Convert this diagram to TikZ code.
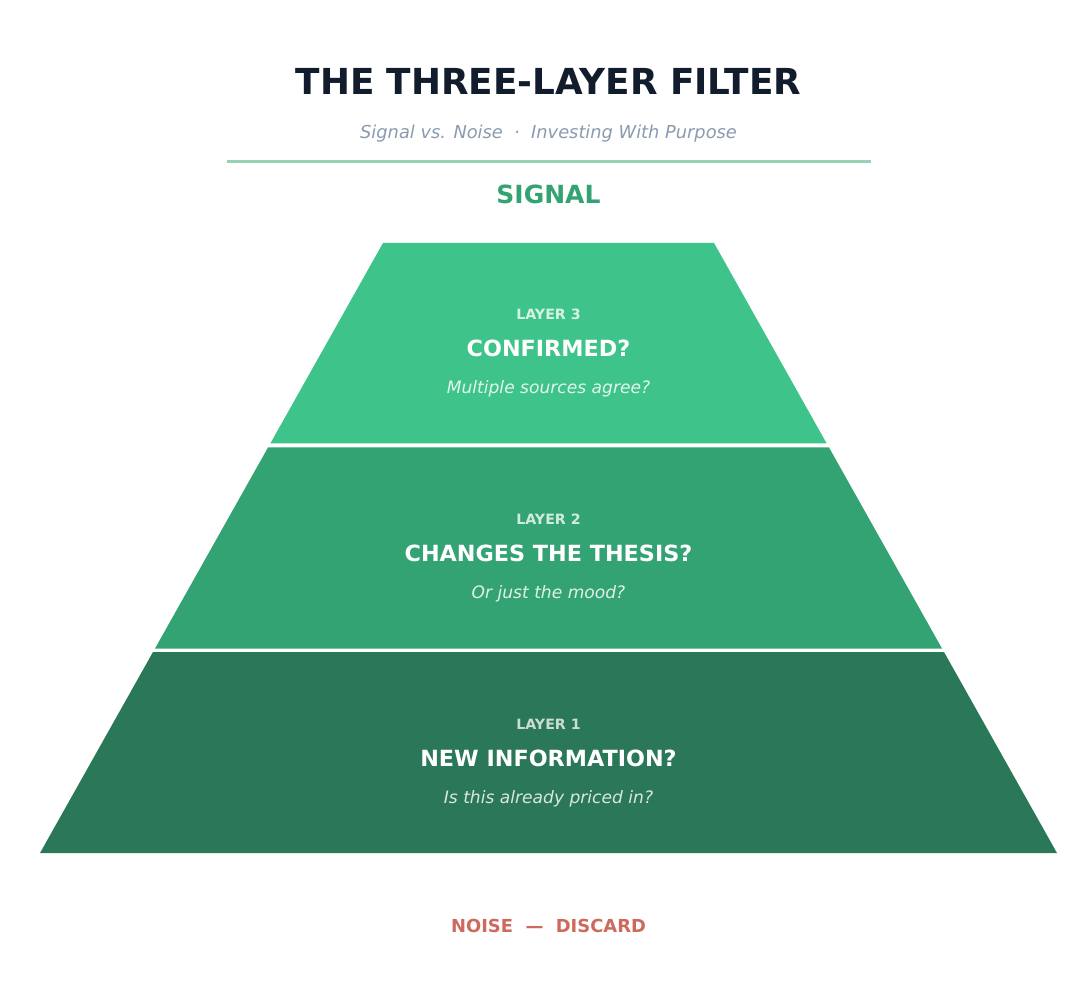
\documentclass[tikz,border=0pt]{standalone}
\usepackage{fontspec}
\setmainfont{DejaVu Sans}
\definecolor{titlec}{HTML}{111C2D}
\definecolor{subc}{HTML}{8A9BB0}
\definecolor{rulec}{HTML}{96D2B4}
\definecolor{sigc}{HTML}{34A373}
\definecolor{noisec}{HTML}{CD6A5D}
\definecolor{lthree}{HTML}{3EC48A}
\definecolor{ltwo}{HTML}{34A374}
\definecolor{lone}{HTML}{2B7859}
\begin{document}
\begin{tikzpicture}[x=1pt,y=-1pt,
  txt/.style={inner sep=0pt,anchor=center},
  tag/.style={txt,font=\fontsize{14.2}{14}\selectfont\bfseries},
  head/.style={txt,font=\fontsize{22.3}{22}\selectfont\bfseries,text=white},
  note/.style={txt,font=\fontsize{17.1}{17}\selectfont\itshape}]
\useasboundingbox (0,0) rectangle (1090,981);
\fill[white] (0,0) rectangle (1090,981);
% layers
\fill[lthree] (383,243) -- (714,243) -- (826.7,443.5) -- (270.3,443.5) -- cycle;
\fill[ltwo] (268,447.5) -- (829,447.5) -- (942,648.5) -- (155,648.5) -- cycle;
\fill[lone] (153,652) -- (944,652) -- (1057,853) -- (40,853) -- cycle;
% header
\node[txt,font=\fontsize{35.8}{36}\selectfont\bfseries,text=titlec] (title) at (548.5,81) {THE THREE-LAYER FILTER};
\node[txt,font=\fontsize{17.8}{18}\selectfont\itshape,text=subc] (sub) at (548.5,133.5) {Signal vs. Noise\ \ ·\ \ Investing With Purpose};
\coordinate (rl) at (227,161.3);
\coordinate (rr) at (871,161.3);
\draw[rulec,line width=3.4pt] (rl) -- (rr);
\node[txt,font=\fontsize{25}{25}\selectfont\bfseries,text=sigc] (signal) at (548.5,194) {SIGNAL};
% layer 3
\node[tag,text=white!78!lthree] (t3) at (548.5,314) {LAYER 3};
\node[head] (h3) at (548.5,348) {CONFIRMED?};
\node[note,text=white!85!lthree] (n3) at (548.5,388.5) {Multiple sources agree?};
% layer 2
\node[tag,text=white!78!ltwo] (t2) at (548.5,519) {LAYER 2};
\node[head] (h2) at (548.5,553) {CHANGES THE THESIS?};
\node[note,text=white!85!ltwo] (n2) at (548.5,593.5) {Or just the mood?};
% layer 1
\node[tag,text=white!75!lone] (t1) at (548.5,724) {LAYER 1};
\node[head] (h1) at (548.5,758) {NEW INFORMATION?};
\node[note,text=white!82!lone] (n1) at (548.5,798.5) {Is this already priced in?};
% footer
\node[txt,font=\fontsize{17.9}{18}\selectfont\bfseries,text=noisec] (noise) at (548.5,926) {NOISE\ \ —\ \ DISCARD};
\end{tikzpicture}
\end{document}
